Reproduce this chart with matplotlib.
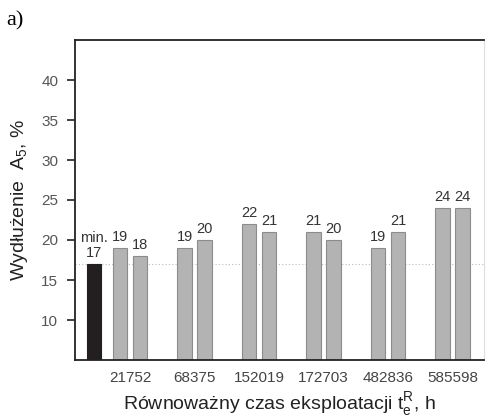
import matplotlib
matplotlib.use("Agg")
import matplotlib.pyplot as plt
import numpy as np

categories = ["21752", "68375", "152019", "172703", "482836", "585598"]
series_a = [19, 19, 22, 21, 19, 24]
series_b = [18, 20, 21, 20, 21, 24]
min_value = 17
yticks = [10, 15, 20, 25, 30, 35, 40]

plt.rcParams['font.family'] = ['Liberation Sans', 'DejaVu Sans']
plt.rcParams['mathtext.fontset'] = 'custom'
plt.rcParams['mathtext.rm'] = 'Liberation Sans'

fig = plt.figure(figsize=(4.88, 4.2), dpi=100)
ax = fig.add_axes([75/488, 1 - 360/420, (484-75)/488, (360-40)/420])

x = np.arange(len(categories))
w = 0.225
off = 0.153
base = 5
gray = "#b3b3b3"
edge = "#8c8c8c"
ax.bar(x - off, np.array(series_a) - base, bottom=base, width=w, color=gray, edgecolor=edge, linewidth=0.8)
ax.bar(x + off, np.array(series_b) - base, bottom=base, width=w, color=gray, edgecolor=edge, linewidth=0.8)
ax.bar([-0.56], [min_value - base], bottom=base, width=w, color="#231f20", edgecolor="#231f20", linewidth=0.8)

ax.axhline(min_value, color="#bbbbbb", linestyle=(0, (1, 2)), linewidth=0.8, zorder=0)

txtc = "#333333"
for xi, v in zip(x - off, series_a):
    ax.text(xi, v + 0.5, str(v), ha="center", va="bottom", fontsize=10.5, color=txtc)
for xi, v in zip(x + off, series_b):
    ax.text(xi, v + 0.5, str(v), ha="center", va="bottom", fontsize=10.5, color=txtc)
ax.text(-0.56, min_value + 0.5, "min.\n17", ha="center", va="bottom", fontsize=10.5, color=txtc, linespacing=1.1)

ax.set_xlim(-0.853, 5.488)
ax.set_ylim(5, 45)
ax.set_yticks(yticks)
ax.set_xticks(x)
ax.set_xticklabels(categories, fontsize=11, color="#444444")
ax.tick_params(axis="x", length=0, pad=8)
ax.tick_params(axis="y", length=6, width=1.2, color="#222222", labelsize=11, labelcolor="#555555", pad=6)

for s in ["left", "top", "bottom"]:
    ax.spines[s].set_color("#222222")
    ax.spines[s].set_linewidth(1.3)
ax.spines["right"].set_color("#dddddd")
ax.spines["right"].set_linewidth(0.8)

ax.set_ylabel("Wydłużenie  A$_{\\mathrm{5}}$, %", fontsize=14, color="#222222", labelpad=8)
ax.set_xlabel("Równoważny czas eksploatacji t$_{\\mathrm{e}}^{\\mathrm{R}}$, h", fontsize=14, color="#222222", labelpad=4)

fig.text(6/488, 1 - 21/420, "a)", family=["Liberation Serif"], fontsize=16, va="center", ha="left")

fig.savefig("out.png", dpi=100)
